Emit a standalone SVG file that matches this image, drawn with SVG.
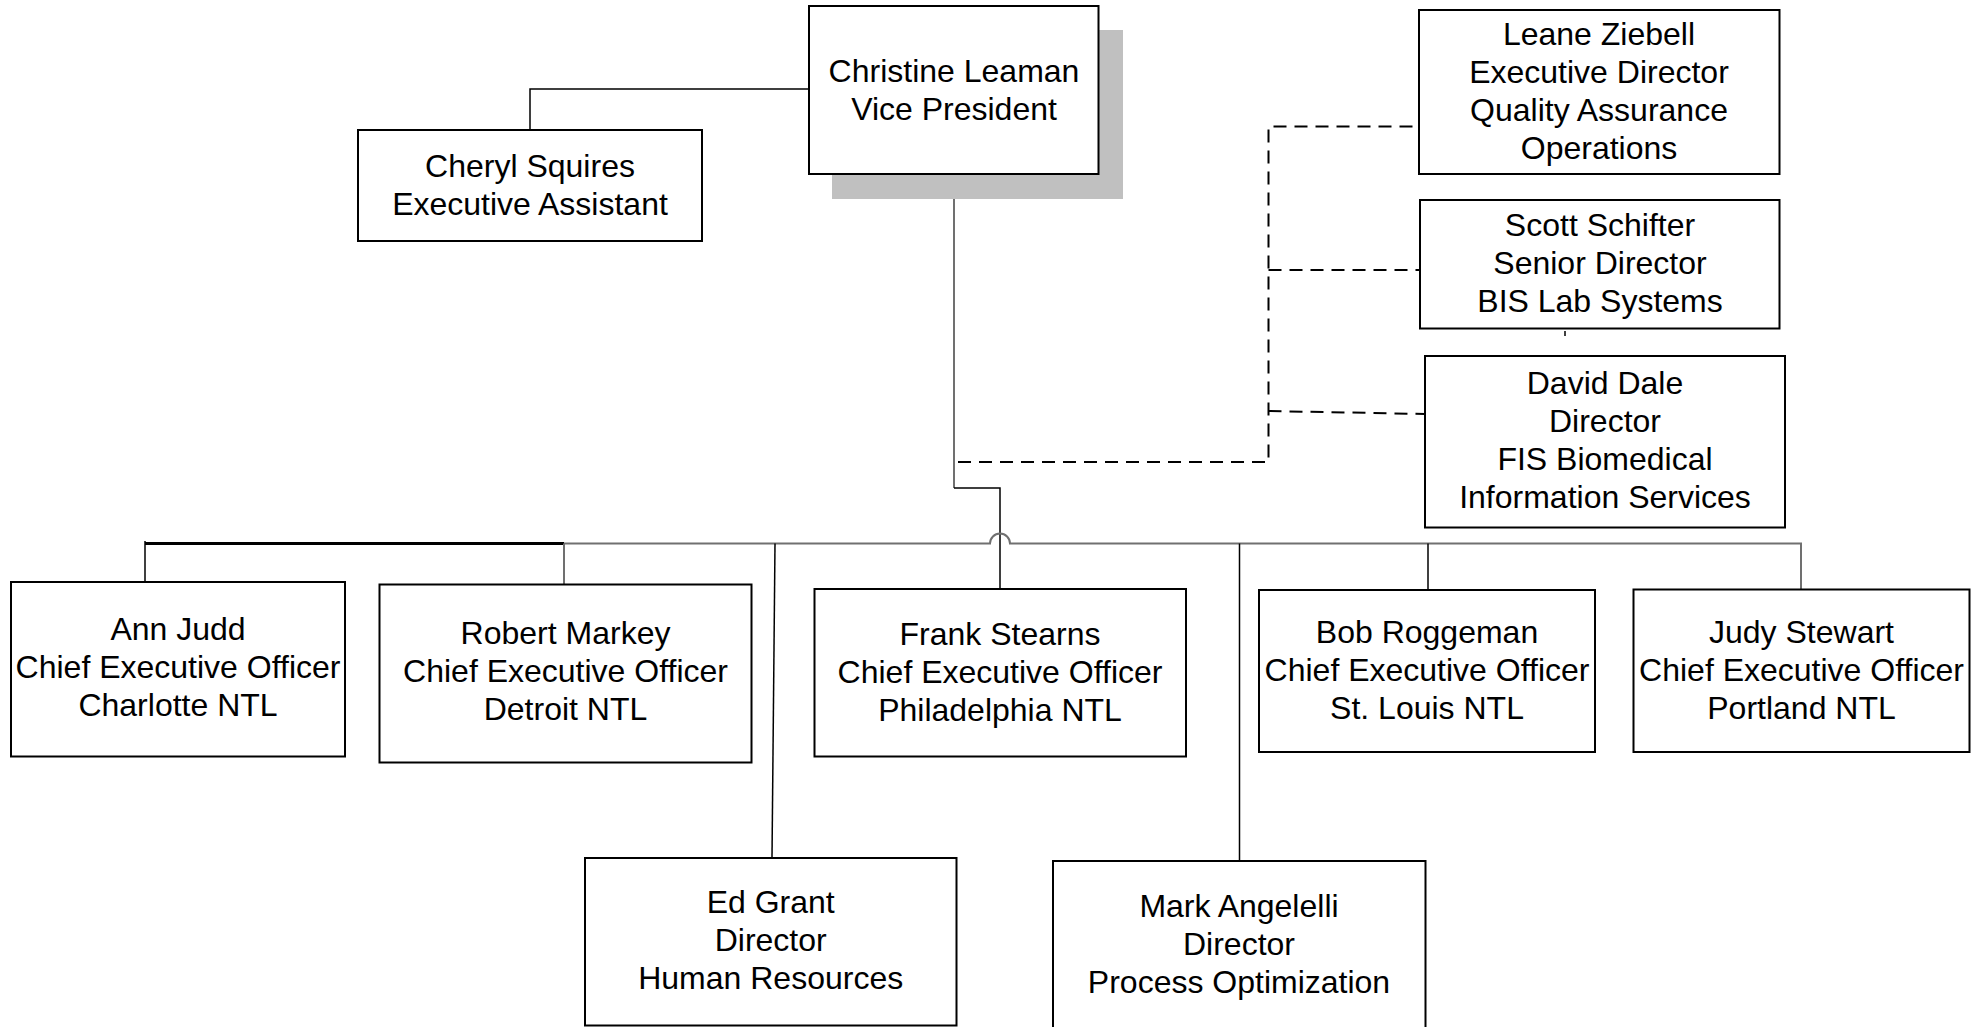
<svg xmlns="http://www.w3.org/2000/svg" width="1981" height="1027" viewBox="0 0 1981 1027">
<style>
.box{fill:#fff;stroke:#000;stroke-width:2}
.t{font-family:"Liberation Sans",Arial,sans-serif;font-size:32px;fill:#000;text-anchor:middle}
.c{fill:none;stroke:#000;stroke-width:1.5}
.g{fill:none;stroke:#707070;stroke-width:2}
.d{fill:none;stroke:#000;stroke-width:2;stroke-dasharray:13 8}
</style>
<rect width="1981" height="1027" fill="#fff"/>
<g id="connectors">
<path class="c" d="M809,89 H530 V130"/>
<path class="g" d="M954,174 V488"/>
<path class="c" d="M954,488 H1000 V589"/>
<path class="g" d="M564,543.5 H990 A10,10 0 0 1 1010,543.5 H1801 V589"/>
<path stroke="#000" stroke-width="3" fill="none" d="M145,543.5 H564"/>
<path class="c" d="M145,541 V587"/>
<path class="g" stroke-width="1.5" d="M564,543.5 V584"/>
<path class="c" d="M775,543.5 L772,858"/>
<path class="c" d="M1239.5,543.5 V861"/>
<path class="c" d="M1428,543.5 V590"/>
<path class="d" d="M958,462 H1268.5 V126.5 H1419"/>
<path class="d" d="M1268.5,270 H1420"/>
<path class="d" d="M1268.5,411 L1425,414"/>
<path class="c" d="M1565,331 V336"/>
</g>
<g id="christine">
<rect x="832" y="30" width="291" height="169" fill="#c0c0c0"/>
<rect class="box" x="809" y="6" width="289.5" height="168"/>
<text class="t" x="954" y="82">Christine Leaman</text>
<text class="t" x="954" y="120">Vice President</text>
</g>
<g id="cheryl">
<rect class="box" x="358" y="130" width="344" height="111"/>
<text class="t" x="530" y="177">Cheryl Squires</text>
<text class="t" x="530" y="215">Executive Assistant</text>
</g>
<g id="leane">
<rect class="box" x="1419" y="10" width="360.5" height="164"/>
<text class="t" x="1599" y="45">Leane Ziebell</text>
<text class="t" x="1599" y="83">Executive Director</text>
<text class="t" x="1599" y="121">Quality Assurance</text>
<text class="t" x="1599" y="159">Operations</text>
</g>
<g id="scott">
<rect class="box" x="1420" y="200" width="359.5" height="128.5"/>
<text class="t" x="1600" y="236">Scott Schifter</text>
<text class="t" x="1600" y="274">Senior Director</text>
<text class="t" x="1600" y="312">BIS Lab Systems</text>
</g>
<g id="david">
<rect class="box" x="1425" y="356" width="360" height="171.5"/>
<text class="t" x="1605" y="394">David Dale</text>
<text class="t" x="1605" y="432">Director</text>
<text class="t" x="1605" y="470">FIS Biomedical</text>
<text class="t" x="1605" y="508">Information Services</text>
</g>
<g id="ann">
<rect class="box" x="11" y="582" width="334" height="174.5"/>
<text class="t" x="178" y="640">Ann Judd</text>
<text class="t" x="178" y="678">Chief Executive Officer</text>
<text class="t" x="178" y="716">Charlotte NTL</text>
</g>
<g id="robert">
<rect class="box" x="379.5" y="584.5" width="372" height="178"/>
<text class="t" x="565.5" y="644">Robert Markey</text>
<text class="t" x="565.5" y="682">Chief Executive Officer</text>
<text class="t" x="565.5" y="720">Detroit NTL</text>
</g>
<g id="frank">
<rect class="box" x="814.5" y="589" width="371.5" height="167.5"/>
<text class="t" x="1000" y="645">Frank Stearns</text>
<text class="t" x="1000" y="683">Chief Executive Officer</text>
<text class="t" x="1000" y="721">Philadelphia NTL</text>
</g>
<g id="bob">
<rect class="box" x="1259" y="590" width="336" height="162"/>
<text class="t" x="1427" y="643">Bob Roggeman</text>
<text class="t" x="1427" y="681">Chief Executive Officer</text>
<text class="t" x="1427" y="719">St. Louis NTL</text>
</g>
<g id="judy">
<rect class="box" x="1633.5" y="589.5" width="336" height="162.5"/>
<text class="t" x="1801.5" y="643">Judy Stewart</text>
<text class="t" x="1801.5" y="681">Chief Executive Officer</text>
<text class="t" x="1801.5" y="719">Portland NTL</text>
</g>
<g id="ed">
<rect class="box" x="585" y="858" width="371.5" height="167.5"/>
<text class="t" x="770.7" y="913">Ed Grant</text>
<text class="t" x="770.7" y="951">Director</text>
<text class="t" x="770.7" y="989">Human Resources</text>
</g>
<g id="mark">
<rect class="box" x="1053" y="861" width="372.5" height="175"/>
<text class="t" x="1239" y="917">Mark Angelelli</text>
<text class="t" x="1239" y="955">Director</text>
<text class="t" x="1239" y="993">Process Optimization</text>
</g>
</svg>
